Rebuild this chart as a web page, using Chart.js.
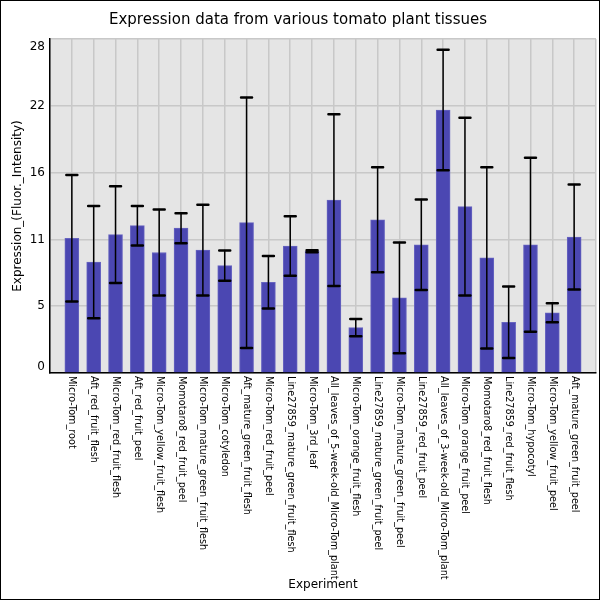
<!DOCTYPE html>
<html>
<head>
<meta charset="utf-8">
<script src="https://cdn.jsdelivr.net/npm/chart.js@4.4.1/dist/chart.umd.min.js"></script>
<style>
  html, body { margin: 0; padding: 0; background: #fff; }
  #wrap { width: 600px; height: 600px; }
</style>
</head>
<body>
<div id="wrap"><canvas id="tomatoChart" width="600" height="600"></canvas></div>
<script>
const categories = [
    'Micro-Tom_root', 'Aft_red_fruit_flesh', 'Micro-Tom_red_fruit_flesh', 'Aft_red_fruit_peel',
    'Micro-Tom_yellow_fruit_flesh', 'Momotaro8_red_fruit_peel', 'Micro-Tom_mature_green_fruit_flesh',
    'Micro-Tom_cotyledon', 'Aft_mature_green_fruit_flesh', 'Micro-Tom_red_fruit_peel',
    'Line27859_mature_green_fruit_flesh', 'Micro-Tom_3rd_leaf', 'All_leaves_of_5-week-old_Micro-Tom_plant',
    'Micro-Tom_orange_fruit_flesh', 'Line27859_mature_green_fruit_peel', 'Micro-Tom_mature_green_fruit_peel',
    'Line27859_red_fruit_peel', 'All_leaves_of_3-week-old_Micro-Tom_plant', 'Micro-Tom_orange_fruit_peel',
    'Momotaro8_red_fruit_flesh', 'Line27859_red_fruit_flesh', 'Micro-Tom_hypocotyl',
    'Micro-Tom_yellow_fruit_peel', 'Aft_mature_green_fruit_peel'
];
const means = [11.3, 9.3, 11.6, 12.35, 10.1, 12.14, 10.3, 9.0, 12.6, 7.6, 10.65, 10.2,
               14.5, 3.8, 12.85, 6.3, 10.75, 22.05, 13.95, 9.65, 4.25, 10.75, 5.05, 11.4];
const errors = [5.3, 4.7, 4.05, 1.66, 3.6, 1.26, 3.8, 1.26, 10.5, 2.2, 2.5, 0.08,
                7.2, 0.72, 4.4, 4.65, 3.8, 5.05, 7.45, 7.6, 3.0, 7.3, 0.8, 4.4];
const yTickLabels = ['0', '5', '11', '16', '22', '28'];
const yMax = 28;

document.addEventListener('DOMContentLoaded', function () {
    const ctx = document.getElementById('tomatoChart').getContext('2d');
    const font = "'DejaVu Sans', sans-serif";

    // grey plot background, custom labels, error bars and frame
    const extras = {
        id: 'extras',
        beforeDraw(chart) {
            const a = chart.chartArea;
            const c = chart.ctx;
            c.save();
            c.fillStyle = '#e5e5e5';
            c.fillRect(a.left, a.top, a.right - a.left, a.bottom - a.top);
            c.restore();
        },
        afterDatasetsDraw(chart) {
            const c = chart.ctx;
            const y = chart.scales.y;
            const bars = chart.getDatasetMeta(0).data;
            c.save();
            c.strokeStyle = '#000';
            c.lineCap = 'round';
            bars.forEach(function (bar, i) {
                const lo = y.getPixelForValue(means[i] - errors[i]);
                const hi = y.getPixelForValue(means[i] + errors[i]);
                c.lineWidth = 1.5;
                c.beginPath();
                c.moveTo(bar.x, lo);
                c.lineTo(bar.x, hi);
                c.stroke();
                c.lineWidth = 2.5;
                c.beginPath();
                c.moveTo(bar.x - 5.5, lo); c.lineTo(bar.x + 5.5, lo);
                c.moveTo(bar.x - 5.5, hi); c.lineTo(bar.x + 5.5, hi);
                c.stroke();
            });
            c.restore();
        },
        afterDraw(chart) {
            const c = chart.ctx;
            const a = chart.chartArea;
            const x = chart.scales.x;
            const y = chart.scales.y;
            c.save();
            c.fillStyle = '#000';

            // x labels, rotated clockwise, reading downwards
            c.font = '9.7px ' + font;
            c.textAlign = 'left';
            c.textBaseline = 'middle';
            categories.forEach(function (lab, i) {
                c.save();
                c.translate(x.getPixelForValue(i), a.bottom + 3);
                c.rotate(Math.PI / 2);
                c.fillText(lab, 0, 0);
                c.restore();
            });

            // y labels, kept inside the plot height
            c.font = '12px ' + font;
            c.textAlign = 'right';
            yTickLabels.forEach(function (lab, i) {
                let py = y.getPixelForValue(i * yMax / (yTickLabels.length - 1));
                py = Math.min(Math.max(py, a.top + 8), a.bottom - 6);
                c.fillText(lab, a.left - 5, py);
            });

            // axis titles
            c.textAlign = 'center';
            c.fillText('Experiment', (a.left + a.right) / 2, 585);
            c.save();
            c.translate(18, (a.top + a.bottom) / 2);
            c.rotate(-Math.PI / 2);
            c.fillText('Expression_(Fluor._Intensity)', 0, 0);
            c.restore();

            // outer frame
            c.strokeStyle = '#000';
            c.lineWidth = 2;
            c.strokeRect(0, 0, chart.width, chart.height);
            c.restore();
        }
    };

    new Chart(ctx, {
        type: 'bar',
        data: {
            datasets: [{
                data: means.map(function (v, i) { return { x: i, y: v }; }),
                backgroundColor: '#4b47b2',
                borderColor: '#6764c0',
                borderWidth: 1,
                barThickness: 14
            }]
        },
        options: {
            responsive: false,
            animation: false,
            layout: { padding: { left: 0, right: 4, top: 0, bottom: 0 } },
            scales: {
                x: {
                    type: 'linear',
                    offset: false,
                    min: -1,
                    max: categories.length,
                    ticks: { display: false, stepSize: 1 },
                    grid: { color: '#c8c8c8', lineWidth: 1.5, drawTicks: false, offset: false },
                    border: { color: '#000', width: 1.5 },
                    afterFit: function (scale) { scale.height = 227; }
                },
                y: {
                    min: 0,
                    max: yMax,
                    ticks: { display: false, stepSize: yMax / 5 },
                    grid: { color: '#c8c8c8', lineWidth: 1.5, drawTicks: false },
                    border: { color: '#000', width: 1.5 },
                    afterFit: function (scale) { scale.width = 50; }
                }
            },
            plugins: {
                legend: { display: false },
                tooltip: { enabled: false },
                title: {
                    display: true,
                    text: 'Expression data from various tomato plant tissues',
                    color: '#000',
                    font: { family: font, size: 15, weight: 'normal' },
                    padding: { top: 11, bottom: 10 }
                }
            }
        },
        plugins: [extras]
    });
});
</script>
</body>
</html>
